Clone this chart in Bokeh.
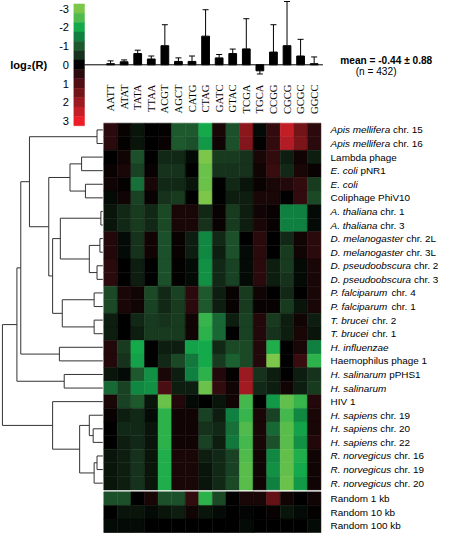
import numpy as np
from bokeh.plotting import figure
from bokeh.models import Range1d, ColumnDataSource, LinearColorMapper, Whisker, TeeHead
from bokeh.transform import transform
from bokeh.core.properties import value
from bokeh.embed import file_html
from bokeh.resources import INLINE

# ---------------- data ----------------
tetranucleotides = ["AATT", "ATAT", "TATA", "TTAA", "ACGT", "AGCT", "CATG", "CTAG",
                    "GATC", "GTAC", "TCGA", "TGCA", "CCGG", "CGCG", "GCGC", "GGCC"]
bar_mean = [-0.06, -0.16, -0.60, -0.31, -1.02, -0.18, -0.18, -1.53,
            -0.37, -0.60, -0.85, 0.32, -0.68, -1.02, -0.47, -0.06]
bar_sd = [0.15, 0.10, 0.18, 0.16, 1.12, 0.19, 0.29, 1.41,
          0.18, 0.24, 1.61, 0.17, 1.46, 2.36, 0.89, 0.36]

row_italic = ["Apis mellifera", "Apis mellifera", "", "E. coli", "E. coli", "",
              "A. thaliana", "A. thaliana", "D. melanogaster", "D. melanogaster",
              "D. pseudoobscura", "D. pseudoobscura", "P. falciparum", "P. falciparum",
              "T. brucei", "T. brucei", "H. influenzae", "", "H. salinarum", "H. salinarum",
              "", "H. sapiens", "H. sapiens", "H. sapiens",
              "R. norvegicus", "R. norvegicus", "R. norvegicus"]
row_plain = ["chr. 15", "chr. 16", "Lambda phage", "pNR1", "", "Coliphage PhiV10",
             "chr. 1", "chr. 3", "chr. 2L", "chr. 3L", "chr. 2", "chr. 3", "chr. 4", "chr. 1",
             "chr. 2", "chr. 1", "", "Haemophilus phage 1", "pPHS1", "",
             "HIV 1", "chr. 19", "chr. 20", "chr. 22", "chr. 16", "chr. 19", "chr. 20"]
random_labels = ["Random 1 kb", "Random 10 kb", "Random 100 kb"]

heat_main = [
    [0.5, 0.1, -0.2, 0.0, 0.05, -1.0, -1.0, -2.0, 0.3, -0.9, 1.8, -0.1, 0.6, 2.5, 1.5, 0.5],
    [0.5, 0.05, -0.2, 0.0, 0.1, -1.0, -0.9, -1.8, 0.2, -0.9, 1.7, 0.05, 0.6, 2.3, 1.6, 0.5],
    [0.0, 0.2, -0.9, 0.0, -0.4, -0.4, -0.1, -3.0, -0.6, -0.6, -0.5, 0.3, 0.6, -0.3, 0.2, -0.3],
    [0.1, 0.3, -0.7, 0.1, -0.5, -0.5, 0.0, -2.8, -0.5, -0.5, -0.5, 0.2, 0.7, -0.4, 0.3, 0.1],
    [0.2, 0.05, -1.3, 0.3, -0.4, -0.4, -0.2, -2.8, 0.0, -0.4, -0.2, 0.1, 0.3, 0.4, 0.6, -0.6],
    [-0.1, 0.2, -0.7, 0.1, -0.5, -0.6, 0.0, -3.0, 0.0, -0.3, -0.3, 0.3, 0.3, 0.0, 0.6, -0.8],
    [-0.2, -0.4, -0.6, -0.4, -0.8, 0.3, 0.3, -0.4, 0.1, -0.6, -0.3, 0.2, 0.1, -1.5, -1.5, -0.1],
    [-0.2, -0.4, -0.6, -0.4, -0.8, 0.3, 0.3, -0.5, 0.1, -0.6, -0.3, 0.3, 0.1, -1.5, -1.5, -0.1],
    [0.4, -0.1, -0.5, 0.2, -0.9, 0.1, -0.3, -1.6, -0.4, -0.9, 0.0, 0.5, 0.0, -0.4, 0.2, 0.5],
    [0.4, -0.1, -0.5, 0.2, -0.9, 0.1, -0.3, -1.6, -0.3, -0.9, -0.1, 0.5, 0.0, -0.6, 0.2, 0.5],
    [0.5, 0.0, -0.3, 0.0, -0.9, 0.05, -0.1, -1.7, -0.4, -0.7, -0.1, 0.5, -0.3, -0.6, -0.1, 0.3],
    [0.5, 0.0, -0.3, 0.0, -0.9, 0.05, -0.1, -1.7, -0.4, -0.7, -0.1, 0.5, -0.3, -0.5, -0.1, 0.3],
    [-0.8, 0.3, 0.2, -0.8, -0.4, -0.7, 0.5, -1.0, -0.3, 0.1, -0.6, 0.2, 0.0, -0.4, 0.0, 0.3],
    [-0.8, 0.3, 0.2, -0.7, -0.4, -0.6, 0.5, -1.0, -0.3, 0.1, -0.6, 0.1, 0.1, -0.6, -0.2, 0.3],
    [-0.3, 0.0, -0.4, -0.6, -0.5, -0.6, 0.2, -2.3, -1.2, -0.3, -0.7, 0.4, -0.6, -0.3, 0.2, -0.3],
    [-0.3, 0.0, -0.3, -0.6, -0.6, -0.6, 0.2, -2.2, -1.2, 0.0, -0.7, 0.4, -0.5, -0.3, 0.3, -0.2],
    [0.4, -0.6, -2.0, 0.0, -0.3, -0.3, -1.9, -2.0, -0.4, -0.8, -0.8, 0.4, -2.1, 0.0, 0.3, -1.5],
    [0.4, -0.5, -1.9, 0.0, -0.4, -0.8, -1.4, -2.0, -0.6, -1.1, -0.8, 0.4, -3.0, 0.0, 0.7, -2.2],
    [-0.2, -0.1, -1.0, -1.7, 0.3, -0.3, -1.5, -2.2, 0.4, 0.05, 2.0, -0.5, -0.3, 0.0, -0.3, -0.5],
    [-1.2, -0.7, -1.6, -1.7, 0.9, -0.3, -0.3, -2.8, 0.6, 0.2, 2.1, -0.4, -0.3, 0.2, -0.3, -0.6],
    [0.3, -0.7, -1.0, -0.2, -2.8, 0.4, -0.1, 0.0, -0.2, 0.2, -2.4, 0.0, -1.8, -2.7, -2.3, 0.4],
    [0.1, -0.3, -0.4, -0.1, -2.2, 0.2, 0.2, -0.7, -0.3, -1.5, -2.3, 0.3, -0.7, -2.4, -1.6, 0.3],
    [0.0, -0.4, -0.4, -0.2, -2.2, 0.2, 0.2, -0.5, -0.4, -1.3, -2.5, 0.3, -1.2, -2.6, -1.9, 0.3],
    [0.0, -0.3, -0.4, -0.2, -2.2, 0.2, 0.2, -0.7, -0.3, -1.4, -2.4, 0.3, -0.9, -2.6, -1.7, 0.4],
    [-0.2, -0.3, -0.5, -0.2, -2.1, 0.3, 0.3, -0.3, -0.4, -0.7, -2.5, 0.2, -1.6, -2.7, -2.1, 0.2],
    [-0.2, -0.3, -0.5, -0.2, -2.1, 0.3, 0.3, -0.2, -0.4, -0.7, -2.6, 0.2, -1.7, -2.7, -2.0, 0.2],
    [-0.2, -0.3, -0.5, -0.2, -2.1, 0.3, 0.3, -0.2, -0.4, -0.8, -2.6, 0.2, -1.5, -2.8, -1.8, 0.2],
]
heat_random = [
    [-0.9, -0.9, 0.0, 0.3, -0.9, -0.9, 0.6, -2.2, -0.8, 0.0, 0.3, 0.3, 1.3, 0.2, 0.0, 0.2],
    [0.0, -0.2, -0.2, -0.1, -0.2, -0.3, 0.2, -0.2, -0.1, 0.0, -0.05, 0.0, 0.1, -0.2, -0.1, 0.05],
    [-0.1, -0.1, -0.1, 0.0, 0.0, 0.0, 0.0, 0.0, 0.0, 0.0, -0.1, 0.0, 0.0, 0.0, 0.0, -0.1],
]

# hierarchical clustering of the 27 genomes: (child a, child b, merge distance)
linkage = [
    (0, 1, 0.06), (2, 3, 0.22), (4, 5, 0.18), (28, 29, 0.34), (6, 7, 0.02),
    (8, 9, 0.03), (10, 11, 0.06), (32, 33, 0.14), (31, 34, 0.44), (12, 13, 0.09),
    (14, 15, 0.09), (36, 37, 0.42), (35, 38, 0.52), (30, 39, 0.56), (27, 40, 0.76),
    (16, 17, 0.45), (41, 42, 0.85), (18, 19, 0.40), (43, 44, 0.89), (22, 23, 0.10),
    (21, 46, 0.14), (24, 25, 0.06), (48, 26, 0.09), (47, 49, 0.24), (20, 50, 0.52),
    (45, 51, 1.04),
]

legend_ticks = [-3, -2, -1, 0, 1, 2, 3]
legend_steps = [-3.0, -2.5, -2.0, -1.5, -1.0, -0.5, 0.0, 0.5, 1.0, 1.5, 2.0, 2.5, 3.0]
legend_colors = ["#7cc64a", "#50bb4c", "#14aa4b", "#108040", "#1e582d", "#16321c", "#000000",
                 "#2a0a0c", "#500f14", "#731419", "#9b1920", "#c31e26", "#eb1e28"]
mean_text = "mean = -0.44 \u00b1 0.88"
n_text = "(n = 432)"

# ---------------- layout (reference pixel space) ----------------
REF_W, REF_H = 460, 552
S = 444 / REF_W
FIG_W, FIG_H = 444, int(round(REF_H * S))
HEAT_L, HEAT_R, HEAT_T = 107.0, 332.0, 127.0
ROW_H, GAP = 14.07, 2.0
ZERO_Y, UNIT = 66.6, 19.4
LEAF_X, DEND_PX = 106.0, 100.0
COL_W = (HEAT_R - HEAT_L) / len(tetranucleotides)
LABEL_X = 342.0

def fs(px):
    return value(f"{px * S:.2f}px")

# fine palette interpolated from legend colours
def hex2rgb(h):
    return [int(h[i:i + 2], 16) for i in (1, 3, 5)]
anch = np.array([hex2rgb(c) for c in legend_colors], dtype=float)
fine_v = np.linspace(-3, 3, 241)
fine = []
for v in fine_v:
    rgb = [int(round(np.interp(v, legend_steps, anch[:, k]))) for k in range(3)]
    fine.append("#%02x%02x%02x" % tuple(rgb))
mapper = LinearColorMapper(palette=fine, low=-3, high=3)

p = figure(width=FIG_W, height=FIG_H, output_backend="svg", toolbar_location=None,
           x_range=Range1d(-HEAT_L / COL_W, (REF_W - HEAT_L) / COL_W),
           y_range=Range1d((REF_H - HEAT_T) / ROW_H, -HEAT_T / ROW_H),
           x_axis_location=None, y_axis_location=None, min_border=0,
           background_fill_color="white", border_fill_color="white")
p.grid.visible = False
p.outline_line_color = None
p.extra_x_ranges = {"ref": Range1d(0, REF_W),
                    "dend": Range1d(LEAF_X / DEND_PX, (LEAF_X - REF_W) / DEND_PX)}
p.extra_y_ranges = {"ref": Range1d(REF_H, 0),
                    "lr": Range1d((REF_H - ZERO_Y) / UNIT, -ZERO_Y / UNIT)}

# ---------------- heatmap ----------------
n_main = len(heat_main)
gap_rows = GAP / ROW_H
hx, hy, hv = [], [], []
for r, row in enumerate(heat_main):
    for c, v in enumerate(row):
        hx.append(c + 0.5); hy.append(r + 0.5); hv.append(v)
for r, row in enumerate(heat_random):
    for c, v in enumerate(row):
        hx.append(c + 0.5); hy.append(n_main + gap_rows + r + 0.5); hv.append(v)
hsrc = ColumnDataSource(dict(x=hx, y=hy, v=hv))
p.rect(x="x", y="y", width=1, height=1, source=hsrc,
       fill_color=transform("v", mapper), line_color=transform("v", mapper), line_width=0.5)

# ---------------- bar chart ----------------
cols = [i + 0.5 for i in range(len(tetranucleotides))]
err_end = [m + (sd if m >= 0 else -sd) for m, sd in zip(bar_mean, bar_sd)]
bsrc = ColumnDataSource(dict(x=cols, top=bar_mean, err=err_end))
p.vbar(x="x", top="top", bottom=0, width=0.57, source=bsrc, y_range_name="lr",
       fill_color="black", line_color="black")
p.add_layout(Whisker(source=bsrc, base="x", lower="top", upper="err", dimension="height",
                     y_range_name="lr", line_color="black", line_width=1,
                     upper_head=TeeHead(size=6, line_color="black", line_width=1),
                     lower_head=None))
# zero line from legend to right end of heatmap
p.segment(x0=[87.0], x1=[HEAT_R + 2], y0=[ZERO_Y], y1=[ZERO_Y],
          x_range_name="ref", y_range_name="ref", line_color="black", line_width=1)

# tetranucleotide labels (rotated)
p.text(x=cols, y=[87.0] * len(cols), text=tetranucleotides, angle=np.pi / 2,
       y_range_name="ref", text_align="right", text_baseline="middle",
       text_font=value("Liberation Serif"), text_font_size=fs(11), text_color="black")

# ---------------- colour legend ----------------
lsrc = ColumnDataSource(dict(x=[81.5] * len(legend_steps), y=legend_steps, v=legend_steps))
p.rect(x="x", y="y", width=11, height=0.5, source=lsrc, x_range_name="ref", y_range_name="lr",
       fill_color=transform("v", mapper), line_color=transform("v", mapper), line_width=0.5)
p.text(x=[71.0] * len(legend_ticks), y=legend_ticks, text=[str(t) for t in legend_ticks],
       x_range_name="ref", y_range_name="lr", text_align="right", text_baseline="middle",
       text_font=value("Liberation Sans"), text_font_size=fs(11.5), text_color="black")
p.text(x=[10.0], y=[ZERO_Y], text=["log\u2082(R)"], x_range_name="ref", y_range_name="ref",
       text_align="left", text_baseline="middle", text_font=value("Liberation Sans"),
       text_font_style="bold", text_font_size=fs(11.5), text_color="black")

# mean annotation
p.text(x=[352.0], y=[62.0], text=[mean_text], x_range_name="ref", y_range_name="ref",
       text_align="left", text_baseline="middle", text_font=value("Liberation Sans"),
       text_font_style="bold", text_font_size=fs(10.5), text_color="black")
p.text(x=[368.0], y=[74.0], text=[n_text], x_range_name="ref", y_range_name="ref",
       text_align="left", text_baseline="middle", text_font=value("Liberation Sans"),
       text_font_size=fs(10.5), text_color="black")

# ---------------- row labels ----------------
ARIAL = {' ': 278, '.': 278, 'A': 667, 'D': 722, 'E': 667, 'H': 722, 'P': 667, 'R': 722,
         'T': 611, 'a': 556, 'b': 556, 'c': 500, 'd': 556, 'e': 556, 'f': 278, 'g': 556,
         'h': 556, 'i': 222, 'l': 222, 'm': 833, 'n': 556, 'o': 556, 'p': 556, 'r': 333,
         's': 500, 't': 278, 'u': 556, 'v': 500, 'z': 500}
LFS = 10.3
it_y, it_t, pl_y, pl_t, pl_off = [], [], [], [], []
for r, (it, pl) in enumerate(zip(row_italic, row_plain)):
    y = r + 0.5
    if it:
        it_y.append(y); it_t.append(it)
    if pl:
        w = 0.0
        if it:
            w = (sum(ARIAL.get(ch, 556) for ch in it) + 278) / 1000.0 * LFS * S
        pl_y.append(y); pl_t.append(pl); pl_off.append(w)
for r, lab in enumerate(random_labels):
    pl_y.append(n_main + gap_rows + r + 0.5); pl_t.append(lab); pl_off.append(0.0)

p.text(x=[LABEL_X] * len(it_y), y=it_y, text=it_t, x_range_name="ref",
       text_align="left", text_baseline="middle", text_font=value("Liberation Sans"),
       text_font_style="italic", text_font_size=fs(LFS), text_color="black")
psrc = ColumnDataSource(dict(x=[LABEL_X] * len(pl_y), y=pl_y, t=pl_t, off=pl_off))
p.text(x="x", y="y", text="t", x_offset="off", source=psrc, x_range_name="ref",
       text_align="left", text_baseline="middle", text_font=value("Liberation Sans"),
       text_font_size=fs(LFS), text_color="black")

# ---------------- dendrogram ----------------
node_y = {i: i + 0.5 for i in range(n_main)}
node_h = {i: 0.0 for i in range(n_main)}
dxs, dys = [], []
for k, (a, b, h) in enumerate(linkage):
    nid = n_main + k
    ya, yb = node_y[a], node_y[b]
    dxs.append([node_h[a], h, h, node_h[b]])
    dys.append([ya, ya, yb, yb])
    node_y[nid] = (ya + yb) / 2.0
    node_h[nid] = h
p.multi_line(xs=dxs, ys=dys, x_range_name="dend", line_color="#333333", line_width=1)

open("out.html", "w").write(file_html(p, INLINE))
